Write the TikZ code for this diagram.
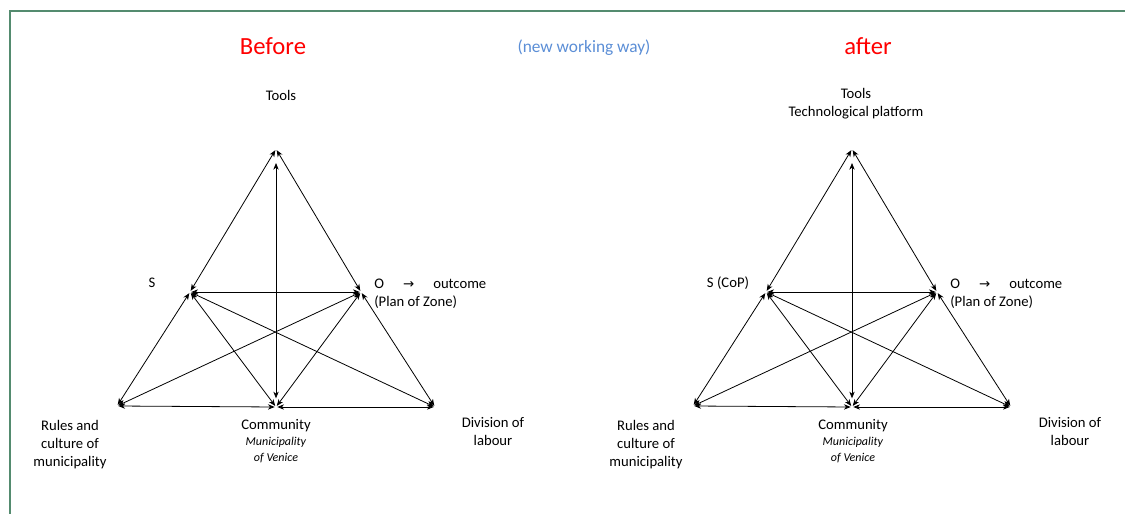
\documentclass[tikz,border=0pt]{standalone}
\usepackage{fontspec}
\setmainfont{Carlito}
\newfontfamily\arrowfont{DejaVu Sans}
\usetikzlibrary{arrows.meta, positioning}

\definecolor{framegreen}{RGB}{84,139,111}
\definecolor{titlered}{RGB}{255,0,0}
\definecolor{noteblue}{RGB}{91,142,214}

\tikzset{
    tag/.style={
        align=center, inner sep=0pt, font=\fontsize{11}{13.5}\selectfont
    },
    heading/.style={
        inner sep=0pt, text=titlered, font=\fontsize{18.5}{22}\selectfont
    },
    link/.style={
        line width=0.6pt, <->, >={Stealth[length=5pt, width=4pt, inset=1.5pt]},
        shorten <=1pt, shorten >=1pt
    },
    frame/.style={
        line width=2.2pt, draw=framegreen
    }
}

\begin{document}
\begin{tikzpicture}[x=0.75pt, y=-0.75pt]

    % Page size and frame
    \useasboundingbox (0,0) rectangle (1125,514);
    \draw[frame] (1125,11) -- (10,11) -- (10,514);

    % Headings
    \node[heading] (before) at (273,46) {Before};
    \node[tag, text=noteblue, font=\fontsize{13}{15}\selectfont] (way) at (584,48) {(new working way)};
    \node[heading] (after) at (868,46) {after};

    % Triangles (b = before, a = after)
    \foreach \p/\dx in {b/0, a/576} {
        \coordinate (\p T) at (276+\dx,149);
        \coordinate (\p S) at (190+\dx,292);
        \coordinate (\p O) at (361+\dx,292);
        \coordinate (\p R) at (117+\dx,406);
        \coordinate (\p C) at (276+\dx,407);
        \coordinate (\p D) at (435+\dx,407);

        \draw[link] (\p T) -- (\p S);
        \draw[link] (\p T) -- (\p O);
        \draw[link, shorten <=10.5pt, shorten >=6.5pt] (\p T) -- (\p C);
        \draw[link] (\p S) -- (\p O);
        \draw[link] (\p S) -- (\p R);
        \draw[link] (\p O) -- (\p D);
        \draw[link] (\p S) -- (\p C);
        \draw[link] (\p O) -- (\p C);
        \draw[link] (\p S) -- (\p D);
        \draw[link] (\p O) -- (\p R);
        \draw[link] (\p R) -- (\p C);
        \draw[link] (\p C) -- (\p D);
    }

    % Labels before
    \node[tag] (bTools) at (281,95) {Tools};
    \node[tag] (bSubj) at (152,283) {S};
    \node[tag, anchor=north west, align=left] (bObj) at (374,279)
        {O\hspace{1.3em}{\arrowfont\fontsize{10}{12}\selectfont →}\hspace{1.3em}outcome\\(Plan of Zone)};
    \node[tag] (bRules) at (70,445) {Rules and\\culture of\\municipality};
    \node[tag, font=\fontsize{11}{12}\selectfont] (bComm) at (276,441)
        {Community\\\textit{\fontsize{9}{12}\selectfont Municipality}\\\textit{\fontsize{9}{12}\selectfont of Venice}};
    \node[tag] (bDiv) at (493,432) {Division of\\labour};

    % Labels after
    \node[tag] (aTools) at (856,104) {Tools\\Technological platform};
    \node[tag] (aSubj) at (728,283) {S (CoP)};
    \node[tag, anchor=north west, align=left] (aObj) at (950,279)
        {O\hspace{1.3em}{\arrowfont\fontsize{10}{12}\selectfont →}\hspace{1.3em}outcome\\(Plan of Zone)};
    \node[tag] (aRules) at (646,445) {Rules and\\culture of\\municipality};
    \node[tag, font=\fontsize{11}{12}\selectfont] (aComm) at (853,441)
        {Community\\\textit{\fontsize{9}{12}\selectfont Municipality}\\\textit{\fontsize{9}{12}\selectfont of Venice}};
    \node[tag] (aDiv) at (1070,432) {Division of\\labour};

\end{tikzpicture}
\end{document}
